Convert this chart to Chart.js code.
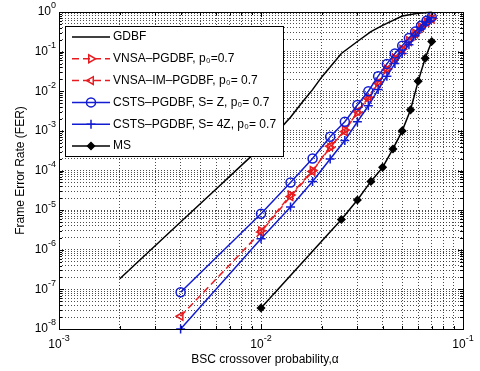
<!DOCTYPE html>
<html>
<head>
<meta charset="utf-8">
<script src="https://cdn.jsdelivr.net/npm/chart.js@4.4.1/dist/chart.umd.min.js"></script>
<style>
  html, body { margin: 0; padding: 0; background: #fff; }
  #wrap { width: 480px; height: 371px; }
</style>
</head>
<body>
<div id="wrap"><canvas id="fer" width="480" height="371"></canvas></div>
<script>
// crossover probabilities
const gdbfAlpha = [0.002, 0.004, 0.006, 0.008, 0.01, 0.012, 0.014, 0.016, 0.018, 0.02, 0.025, 0.03, 0.035, 0.04, 0.05, 0.06, 0.07];
const pgdbfAlpha = [0.004, 0.01, 0.014, 0.018, 0.022, 0.026, 0.03, 0.034, 0.038, 0.042, 0.046, 0.05, 0.054, 0.058, 0.062, 0.066, 0.07];
const msAlpha = [0.01, 0.025, 0.03, 0.035, 0.04, 0.045, 0.05, 0.055, 0.06, 0.065, 0.07];

// frame error rates
const gdbfFer = [1.85e-7, 5.0e-6, 3.4e-5, 1.35e-4, 3.9e-4, 9.3e-4, 2.2e-3, 5.3e-3, 1.1e-2, 2.3e-2, 9.0e-2, 0.18, 0.32, 0.46, 0.79, 0.93, 0.99];
const vnsaFer = [null, 3.0e-6, 2.4e-5, 1.0e-4, 3.8e-4, 1.05e-3, 2.9e-3, 7.0e-3, 1.7e-2, 3.6e-2, 6.8e-2, 0.115, 0.19, 0.29, 0.42, 0.56, 0.68];
const vnsaImFer = [2.1e-8, 2.8e-6, 2.2e-5, 9.5e-5, 4.1e-4, 9.6e-4, 3.1e-3, 6.5e-3, 1.6e-2, 3.5e-2, 6.5e-2, 0.11, 0.18, 0.28, 0.41, 0.55, 0.66];
const cstsZFer = [8.5e-8, 8.1e-6, 5.0e-5, 2.0e-4, 7.1e-4, 1.7e-3, 4.5e-3, 1.0e-2, 2.4e-2, 4.9e-2, 9.0e-2, 0.14, 0.22, 0.32, 0.45, 0.6, 0.75];
const csts4ZFer = [1.0e-8, 1.9e-6, 1.2e-5, 5.3e-5, 1.95e-4, 5.7e-4, 1.7e-3, 4.3e-3, 1.1e-2, 2.4e-2, 5.0e-2, 9.0e-2, 0.15, 0.25, 0.38, 0.55, 0.72];
const msFer = [3.4e-8, 5.8e-6, 1.8e-5, 5.3e-5, 1.2e-4, 3.5e-4, 1.0e-3, 3.4e-3, 1.8e-2, 6.8e-2, 0.18];

// tick label exponents
const xTickExps = [-3, -2, -1];
const yTickExps = [-8, -7, -6, -5, -4, -3, -2, -1, 0];

const FONT = '"Liberation Sans", Arial, Helvetica, sans-serif';
const RED = 'rgb(232,28,32)';
const BLUE = 'rgb(18,28,210)';

function pts(xs, ys) {
    return xs.map((x, i) => ({ x: x, y: ys[i] })).filter(p => p.y != null);
}

// 1..9 x 10^e for every decade, as grid positions
function decadeTicks(lo, hi) {
    let t = [];
    for (let e = lo; e < hi; e++) {
        for (let m = 1; m <= 9; m++) t.push(m * Math.pow(10, e));
    }
    t.push(Math.pow(10, hi));
    return t;
}

function isDecade(v) {
    let l = Math.log10(v);
    return Math.abs(l - Math.round(l)) < 1e-6;
}

function drawPow(ctx, px, py, e, align) {
    let base = '10', ex = e < 0 ? '-' + (-e) : String(e);
    ctx.font = '12px ' + FONT;
    let wb = ctx.measureText(base).width;
    ctx.font = '9px ' + FONT;
    let we = ctx.measureText(ex).width;
    let start = align === 'center' ? px - (wb + we) / 2 : px - wb - we;
    ctx.textAlign = 'left';
    ctx.textBaseline = 'middle';
    ctx.font = '12px ' + FONT;
    ctx.fillText(base, start, py);
    ctx.font = '9px ' + FONT;
    ctx.fillText(ex, start + wb, py - 6);
}

const frame = {
    id: 'frame',
    afterDraw(chart) {
        const { ctx, chartArea: a, scales: { x, y } } = chart;
        ctx.save();
        ctx.strokeStyle = '#000';
        ctx.lineWidth = 1;
        ctx.setLineDash([]);

        // inward tick marks on all four sides
        ctx.beginPath();
        x.ticks.forEach(t => {
            let px = Math.round(x.getPixelForValue(t.value)) + 0.5;
            let len = isDecade(t.value) ? 5 : 3;
            ctx.moveTo(px, a.bottom); ctx.lineTo(px, a.bottom - len);
            ctx.moveTo(px, a.top); ctx.lineTo(px, a.top + len);
        });
        y.ticks.forEach(t => {
            let py = Math.round(y.getPixelForValue(t.value)) + 0.5;
            let len = isDecade(t.value) ? 5 : 3;
            ctx.moveTo(a.left, py); ctx.lineTo(a.left + len, py);
            ctx.moveTo(a.right, py); ctx.lineTo(a.right - len, py);
        });
        ctx.stroke();
        ctx.strokeRect(Math.round(a.left) + 0.5, Math.round(a.top) + 0.5,
            Math.round(a.right - a.left), Math.round(a.bottom - a.top));

        // tick labels
        ctx.fillStyle = '#000';
        xTickExps.forEach(e => drawPow(ctx, x.getPixelForValue(Math.pow(10, e)), a.bottom + 16, e, 'center'));
        yTickExps.forEach(e => drawPow(ctx, a.left - 3, y.getPixelForValue(Math.pow(10, e)), e, 'right'));

        // axis titles
        ctx.font = '12px ' + FONT;
        ctx.textAlign = 'center';
        ctx.textBaseline = 'middle';
        ctx.fillText('BSC crossover probability,\u03b1', (a.left + a.right) / 2 + 4, 360);
        ctx.save();
        ctx.translate(21, (a.top + a.bottom) / 2);
        ctx.rotate(-Math.PI / 2);
        ctx.fillText('Frame Error Rate (FER)', 0, 0);
        ctx.restore();

        // legend box
        const lx = Math.round(a.left) + 6, ly = Math.round(a.top) + 14, lw = 218, lh = 130;
        ctx.fillStyle = '#fff';
        ctx.fillRect(lx, ly, lw, lh);
        ctx.strokeRect(lx + 0.5, ly + 0.5, lw, lh);
        chart.data.datasets.forEach((ds, i) => {
            let cy = ly + 11 + i * 21.8;
            ctx.strokeStyle = ds.borderColor;
            ctx.lineWidth = ds.borderWidth;
            ctx.setLineDash(ds.borderDash || []);
            ctx.beginPath();
            ctx.moveTo(lx + 7, cy);
            ctx.lineTo(lx + 45, cy);
            ctx.stroke();
            ctx.setLineDash([]);
            if (ds.pointRadius > 0) {
                ctx.fillStyle = ds.pointBackgroundColor;
                ctx.strokeStyle = ds.pointBorderColor;
                ctx.lineWidth = ds.pointBorderWidth;
                Chart.helpers.drawPoint(ctx, {
                    pointStyle: ds.pointStyle, radius: ds.pointRadius,
                    rotation: ds.pointRotation || 0, borderWidth: ds.pointBorderWidth
                }, lx + 26, cy);
            }
            ctx.fillStyle = '#000';
            ctx.font = '12px ' + FONT;
            ctx.textAlign = 'left';
            ctx.textBaseline = 'middle';
            ctx.fillText(ds.label, lx + 48, cy);
        });
        ctx.restore();
    }
};

function series(label, xs, ys, color, dash, style, radius, rotation, fillColor, order) {
    return {
        label: label,
        data: pts(xs, ys),
        borderColor: color,
        borderWidth: 1.5,
        borderDash: dash,
        pointStyle: style,
        pointRadius: radius,
        pointRotation: rotation,
        pointBorderColor: color,
        pointBackgroundColor: fillColor,
        pointBorderWidth: 1.5,
        tension: 0,
        fill: false,
        clip: false,
        order: order
    };
}

new Chart(document.getElementById('fer'), {
    type: 'line',
    data: {
        datasets: [
            series('GDBF', gdbfAlpha, gdbfFer, '#000', [], false, 0, 0, '#000', 6),
            series('VNSA\u2013PGDBF, p\u2080=0.7', pgdbfAlpha, vnsaFer, RED, [7, 4], 'triangle', 4.5, 90, 'rgba(0,0,0,0)', 5),
            series('VNSA\u2013IM\u2013PGDBF, p\u2080= 0.7', pgdbfAlpha, vnsaImFer, RED, [7, 4], 'triangle', 4.5, -90, 'rgba(0,0,0,0)', 4),
            series('CSTS\u2013PGDBF, S= Z, p\u2080= 0.7', pgdbfAlpha, cstsZFer, BLUE, [], 'circle', 4.5, 0, 'rgba(0,0,0,0)', 3),
            series('CSTS\u2013PGDBF, S= 4Z, p\u2080= 0.7', pgdbfAlpha, csts4ZFer, BLUE, [], 'cross', 4.5, 0, 'rgba(0,0,0,0)', 2),
            series('MS', msAlpha, msFer, '#000', [], 'rectRot', 3.5, 0, '#000', 1)
        ]
    },
    options: {
        responsive: false,
        animation: false,
        layout: { padding: { left: 59, right: 17, top: 12, bottom: 42 } },
        plugins: { legend: { display: false }, tooltip: { enabled: false } },
        scales: {
            x: {
                type: 'logarithmic', min: 1e-3, max: 1e-1,
                afterBuildTicks: s => { s.ticks = decadeTicks(-3, -1).map(v => ({ value: v })); },
                ticks: { display: false },
                grid: { color: 'rgba(0,0,0,0.7)', lineWidth: 1, drawTicks: false },
                border: { display: false, dash: [1, 2] }
            },
            y: {
                type: 'logarithmic', min: 1e-8, max: 1,
                afterBuildTicks: s => { s.ticks = decadeTicks(-8, 0).map(v => ({ value: v })); },
                ticks: { display: false },
                grid: { color: 'rgba(0,0,0,0.7)', lineWidth: 1, drawTicks: false },
                border: { display: false, dash: [1, 2] }
            }
        }
    },
    plugins: [frame]
});
</script>
</body>
</html>
